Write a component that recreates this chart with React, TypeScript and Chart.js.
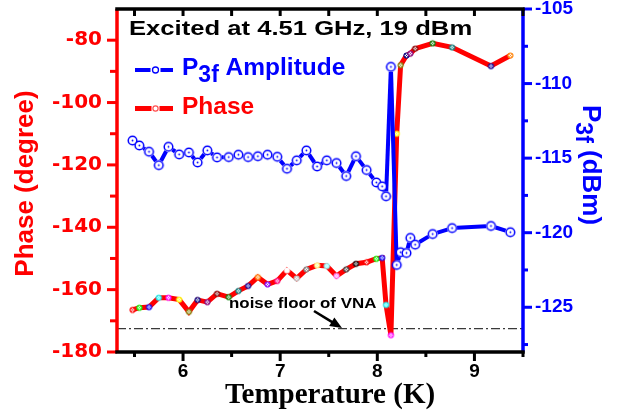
import React, { useEffect, useRef } from 'react';
import { Chart, registerables } from 'chart.js';

Chart.register(...registerables);

// ---------------- data ----------------
const TEMPERATURE_K = [
  5.48, 5.55, 5.65, 5.75, 5.85, 5.96, 6.06, 6.15, 6.25, 6.35,
  6.47, 6.57, 6.67, 6.77, 6.87, 6.97, 7.07, 7.17, 7.27, 7.38,
  7.48, 7.58, 7.68, 7.78, 7.89, 7.99, 8.05, 8.09, 8.14, 8.20,
  8.24, 8.30, 8.34, 8.39, 8.57, 8.77, 9.17, 9.37,
];

const PHASE_DEG = [
  -166.5, -165.8, -165.6, -162.6, -162.6, -163.2, -167.1, -163.3, -164.0, -161.3,
  -162.4, -160.4, -158.8, -156.0, -158.3, -157.2, -153.8, -156.4, -153.5, -152.2,
  -152.4, -155.6, -153.5, -151.7, -151.2, -150.1, -149.8, -164.9, -174.6, -110.0,
  -88.0, -84.9, -84.3, -82.7, -81.0, -82.3, -88.3, -84.9,
];

const P3F_DBM = [
  -113.82, -114.15, -114.57, -115.47, -114.24, -114.75, -114.62, -115.29, -114.48, -114.95,
  -114.93, -114.77, -114.93, -114.87, -114.77, -114.91, -115.71, -115.15, -114.48, -115.56,
  -115.15, -115.33, -116.2, -114.87, -115.8, -116.63, -116.89, -117.56, -108.88, -122.16,
  -121.31, -121.36, -120.35, -120.8, -120.09, -119.69, -119.55, -119.97,
];

const NOISE_FLOOR_DEG = -172.5;

const TEMP_TICKS = [6, 7, 8, 9];
const PHASE_TICKS = [-180, -160, -140, -120, -100, -80];
const P3F_TICKS = [-125, -120, -115, -110, -105];

const TITLE = 'Excited at 4.51 GHz, 19 dBm';
const NOISE_LABEL = 'noise floor of VNA';

// --------------- styles ---------------
const RED = '#ff0000';
const BLUE = '#0000ff';
// Origin "increment" colour list used for the phase symbols
const SYMBOL_COLORS = [
  '#ff0000', '#00ff00', '#0000ff', '#00ffff', '#ff00ff', '#ffff00', '#808000', '#000080',
  '#800080', '#800000', '#008000', '#008080', '#0000a0', '#ff8000', '#8000ff', '#ff0080',
  '#ffffff', '#c0c0c0', '#808080', '#ffff80', '#80ffff', '#ff80ff', '#404040', '#000000',
];

const SANS = "'Liberation Sans', Arial, sans-serif";
const DEJAVU = "'DejaVu Sans', sans-serif";
const SERIF = "'Liberation Serif', 'Times New Roman', serif";

function makeSymbol(r: number, color: string, lw: number, kind: 'dot' | 'cross') {
  const s = Math.ceil(2 * r + lw + 2);
  const c = document.createElement('canvas');
  c.width = s;
  c.height = s;
  const g = c.getContext('2d')!;
  const m = s / 2;
  g.beginPath();
  g.arc(m, m, r, 0, Math.PI * 2);
  g.fillStyle = '#ffffff';
  g.fill();
  g.lineWidth = lw;
  g.strokeStyle = color;
  g.stroke();
  if (kind === 'dot') {
    g.beginPath();
    g.arc(m, m, 0.9, 0, Math.PI * 2);
    g.fillStyle = color;
    g.fill();
  } else {
    const d = r * 0.55;
    g.lineWidth = 0.8;
    g.beginPath();
    g.moveTo(m - d, m - d);
    g.lineTo(m + d, m + d);
    g.moveTo(m + d, m - d);
    g.lineTo(m - d, m + d);
    g.stroke();
  }
  return c;
}

function txt(
  ctx: CanvasRenderingContext2D,
  s: string,
  x: number,
  y: number,
  font: string,
  color: string,
  align: CanvasTextAlign = 'left',
  sx = 1
) {
  ctx.save();
  ctx.font = font;
  ctx.fillStyle = color;
  ctx.textAlign = align;
  ctx.textBaseline = 'alphabetic';
  ctx.translate(x, y);
  ctx.scale(sx, 1);
  ctx.fillText(s, 0, 0);
  const w = ctx.measureText(s).width * sx;
  ctx.restore();
  return w;
}

// gap (px) left around each amplitude symbol, like Origin's line/symbol gap
const SYMBOL_GAP = 5;

const overlay = {
  id: 'overlay',
  beforeDatasetsDraw(chart: any) {
    const ctx: CanvasRenderingContext2D = chart.ctx;
    const { left, right } = chart.chartArea;
    const y = chart.scales.y.getPixelForValue(NOISE_FLOOR_DEG);
    ctx.save();
    ctx.strokeStyle = '#3a3a3a';
    ctx.lineWidth = 1.2;
    ctx.setLineDash([9, 3, 2, 3]);
    ctx.beginPath();
    ctx.moveTo(left, y);
    ctx.lineTo(right, y);
    ctx.stroke();
    ctx.restore();
  },
  beforeDatasetDraw(chart: any, args: any) {
    if (args.index !== 0) return;
    // connecting line of the amplitude series, with a gap round each symbol
    const ctx: CanvasRenderingContext2D = chart.ctx;
    const pts = args.meta.data;
    ctx.save();
    ctx.strokeStyle = BLUE;
    ctx.lineWidth = 4;
    ctx.lineCap = 'butt';
    for (let i = 0; i < pts.length - 1; i++) {
      const p = pts[i];
      const q = pts[i + 1];
      const dx = q.x - p.x;
      const dy = q.y - p.y;
      const L = Math.hypot(dx, dy);
      if (L <= 2 * SYMBOL_GAP) continue;
      const ux = dx / L;
      const uy = dy / L;
      ctx.beginPath();
      ctx.moveTo(p.x + ux * SYMBOL_GAP, p.y + uy * SYMBOL_GAP);
      ctx.lineTo(q.x - ux * SYMBOL_GAP, q.y - uy * SYMBOL_GAP);
      ctx.stroke();
    }
    ctx.restore();
  },
  afterDatasetsDraw(chart: any) {
    const ctx: CanvasRenderingContext2D = chart.ctx;
    const { left, right, top, bottom } = chart.chartArea;
    const sx = chart.scales.x;
    const sy = chart.scales.y;
    const sy1 = chart.scales.y1;
    const line = (x1: number, y1: number, x2: number, y2: number) => {
      ctx.beginPath();
      ctx.moveTo(x1, y1);
      ctx.lineTo(x2, y2);
      ctx.stroke();
    };
    ctx.save();
    ctx.lineCap = 'butt';

    // left (phase) axis
    ctx.strokeStyle = RED;
    ctx.lineWidth = 3.5;
    line(left, top, left, bottom);
    ctx.lineWidth = 3;
    for (let v = PHASE_TICKS[0]; v <= PHASE_TICKS[PHASE_TICKS.length - 1]; v += 10) {
      const p = sy.getPixelForValue(v);
      const major = PHASE_TICKS.includes(v);
      line(left, p, left - (major ? 10 : 7), p);
    }

    // right (P3f) axis
    ctx.strokeStyle = BLUE;
    ctx.lineWidth = 3.5;
    line(right, top, right, bottom);
    ctx.lineWidth = 3;
    for (let v = -127.5; v <= -105; v += 2.5) {
      const p = sy1.getPixelForValue(v);
      const major = P3F_TICKS.includes(v);
      line(right, p, right + (major ? 9 : 5), p);
    }

    // bottom / top frame
    ctx.strokeStyle = '#000000';
    ctx.lineWidth = 3;
    for (let v = 5.5; v <= 9.5; v += 0.5) {
      const p = sx.getPixelForValue(v);
      const major = TEMP_TICKS.includes(v);
      line(p, bottom, p, bottom + (major ? 9 : 5));
      line(p, top, p, top + 7);
    }
    ctx.lineWidth = 3.5;
    line(left - 1.75, bottom, right + 1.75, bottom);
    line(left - 1.75, top, right + 1.75, top);
    ctx.restore();

    // title
    txt(ctx, TITLE, 129, 35, `bold 21px ${SANS}`, '#000000', 'left', 1.22);

    // legend: P3f amplitude
    ctx.save();
    ctx.strokeStyle = BLUE;
    ctx.lineWidth = 4;
    line(135, 70, 150.5, 70);
    line(160.5, 70, 173, 70);
    ctx.beginPath();
    ctx.arc(155.5, 70, 3, 0, Math.PI * 2);
    ctx.fillStyle = '#ffffff';
    ctx.fill();
    ctx.lineWidth = 1.3;
    ctx.stroke();
    ctx.restore();
    let lx = 182;
    lx += txt(ctx, 'P', lx, 75, `bold 24.5px ${SANS}`, BLUE);
    lx += txt(ctx, '3f', lx, 82, `bold 23px ${SANS}`, BLUE);
    txt(ctx, ' Amplitude', lx, 75, `bold 24.5px ${SANS}`, BLUE);

    // legend: phase
    ctx.save();
    ctx.strokeStyle = RED;
    ctx.lineWidth = 5;
    line(135, 108.5, 151.5, 108.5);
    line(159.5, 108.5, 173, 108.5);
    ctx.beginPath();
    ctx.arc(155.5, 108.5, 2.6, 0, Math.PI * 2);
    ctx.fillStyle = '#ffffff';
    ctx.fill();
    ctx.strokeStyle = '#ff5050';
    ctx.lineWidth = 1.2;
    ctx.stroke();
    ctx.restore();
    txt(ctx, 'Phase', 182, 114, `bold 24.5px ${SANS}`, RED);

    // noise floor annotation
    const ny = sy.getPixelForValue(NOISE_FLOOR_DEG);
    txt(ctx, NOISE_LABEL, 229, 308, `bold 15.5px ${SANS}`, '#000000', 'left', 1.09);
    ctx.save();
    const x0 = 314, y0 = 311, x1 = 342, y1 = ny - 0.5;
    const ang = Math.atan2(y1 - y0, x1 - x0);
    const hl = 12, hw = 5;
    const bx = x1 - hl * Math.cos(ang), by = y1 - hl * Math.sin(ang);
    ctx.strokeStyle = '#000000';
    ctx.lineWidth = 2.6;
    line(x0, y0, bx + 1 * Math.cos(ang), by + 1 * Math.sin(ang));
    ctx.beginPath();
    ctx.moveTo(x1, y1);
    ctx.lineTo(bx + hw * Math.sin(ang), by - hw * Math.cos(ang));
    ctx.lineTo(bx - hw * Math.sin(ang), by + hw * Math.cos(ang));
    ctx.closePath();
    ctx.fillStyle = '#000000';
    ctx.fill();
    ctx.restore();

    // axis titles
    ctx.save();
    ctx.translate(33, 183.5);
    ctx.rotate(-Math.PI / 2);
    ctx.font = `bold 26px ${SANS}`;
    ctx.fillStyle = RED;
    ctx.textAlign = 'center';
    ctx.textBaseline = 'alphabetic';
    ctx.fillText('Phase (degree)', 0, 0);
    ctx.restore();

    ctx.save();
    ctx.translate(583, 105);
    ctx.rotate(Math.PI / 2);
    ctx.fillStyle = BLUE;
    ctx.textAlign = 'left';
    ctx.textBaseline = 'alphabetic';
    ctx.font = `bold 26px ${SANS}`;
    ctx.fillText('P', 0, 0);
    let w = ctx.measureText('P').width;
    ctx.font = `bold 23px ${SANS}`;
    ctx.fillText('3f', w, 7);
    w += ctx.measureText('3f').width;
    ctx.font = `bold 26px ${SANS}`;
    ctx.fillText(' (dBm)', w, 0);
    ctx.restore();

    txt(ctx, 'Temperature (K)', 330, 403, `bold 29px ${SERIF}`, '#000000', 'center');
  },
};

export default function App() {
  const ref = useRef<HTMLCanvasElement>(null);

  useEffect(() => {
    const canvas = ref.current;
    if (!canvas) return;
    const blueSym = makeSymbol(4.3, BLUE, 1.5, 'dot');
    const redSyms = SYMBOL_COLORS.map((c) => makeSymbol(2.5, c, 1.2, 'cross'));

    const fixTicks = (vals: number[]) => (s: any) => {
      s.ticks = vals.map((v) => ({ value: v }));
    };

    const chart = new Chart(canvas, {
      type: 'line',
      data: {
        datasets: [
          {
            label: 'P3f Amplitude',
            data: TEMPERATURE_K.map((t, i) => ({ x: t, y: P3F_DBM[i] })),
            yAxisID: 'y1',
            borderColor: BLUE,
            backgroundColor: BLUE,
            borderWidth: 4,
            showLine: false,
            pointStyle: blueSym as any,
            pointRadius: 5,
            tension: 0,
          },
          {
            label: 'Phase',
            data: TEMPERATURE_K.map((t, i) => ({ x: t, y: PHASE_DEG[i] })),
            yAxisID: 'y',
            borderColor: RED,
            backgroundColor: RED,
            borderWidth: 5,
            pointStyle: ((c: any) => redSyms[c.dataIndex % redSyms.length]) as any,
            pointRadius: 3,
            tension: 0,
          },
        ],
      },
      options: {
        animation: false,
        responsive: false,
        devicePixelRatio: 1,
        events: [],
        layout: { padding: { top: 7, left: 0, right: 0, bottom: 0 } },
        plugins: { legend: { display: false }, tooltip: { enabled: false } },
        scales: {
          x: {
            type: 'linear',
            position: 'bottom',
            min: 5.32,
            max: 9.5,
            grid: { display: false, drawTicks: false },
            border: { display: false },
            afterBuildTicks: fixTicks(TEMP_TICKS),
            afterFit: (s: any) => {
              s.height = 64;
              s.paddingLeft = 0;
              s.paddingRight = 0;
            },
            ticks: {
              padding: 8,
              color: '#000000',
              font: { family: SANS, size: 19, weight: 'bold' },
              maxRotation: 0,
              callback: (v: any) => String(v),
            },
          },
          y: {
            type: 'linear',
            position: 'left',
            min: -180,
            max: -70,
            grid: { display: false, drawTicks: false },
            border: { display: false },
            afterBuildTicks: fixTicks(PHASE_TICKS),
            afterFit: (s: any) => {
              s.width = 117;
              s.paddingTop = 0;
              s.paddingBottom = 0;
            },
            ticks: {
              padding: 15,
              color: RED,
              font: { family: DEJAVU, size: 20, weight: 'bold' },
              callback: (v: any) => String(v),
            },
          },
          y1: {
            type: 'linear',
            position: 'right',
            min: -128,
            max: -105,
            grid: { display: false, drawTicks: false },
            border: { display: false },
            afterBuildTicks: fixTicks(P3F_TICKS),
            afterFit: (s: any) => {
              s.width = 98;
              s.paddingTop = 0;
              s.paddingBottom = 0;
            },
            ticks: {
              padding: 12,
              color: BLUE,
              font: { family: SANS, size: 19, weight: 'bold' },
              callback: (v: any) => String(v),
            },
          },
        },
      } as any,
      plugins: [overlay as any],
    });

    return () => chart.destroy();
  }, []);

  return (
    <div style={{ position: 'absolute', left: 0, top: 0, width: 621, height: 416, background: '#ffffff' }}>
      <canvas ref={ref} width={621} height={416} style={{ display: 'block' }} />
    </div>
  );
}
